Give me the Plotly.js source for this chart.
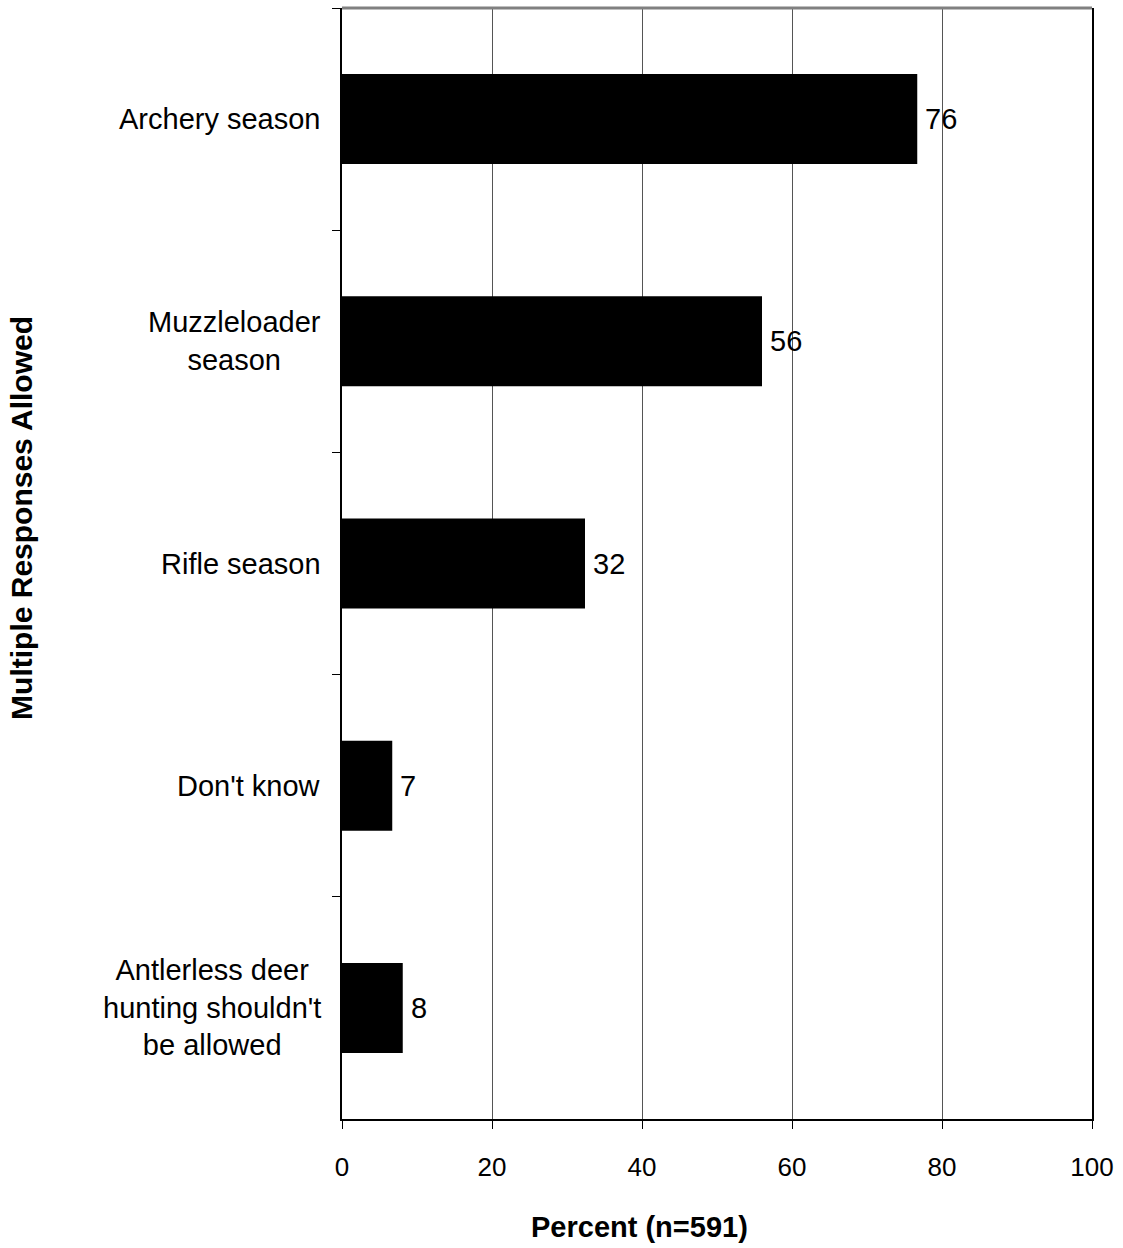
<!DOCTYPE html>
<html>
<head>
<meta charset="utf-8">
<script src="https://cdn.plot.ly/plotly-3.0.1.min.js"></script>
<style>html,body{margin:0;padding:0;background:#fff;}#chart{width:1123px;height:1248px;}</style>
</head>
<body>
<div id="chart"></div>
<script>
var categories = ["Archery season", "Muzzleloader<br>season", "Rifle season", "Don't know", "Antlerless deer<br>hunting shouldn't<br>be allowed"];
var percentValues = [76.7, 56, 32.4, 6.7, 8.1];
var valueLabels = ["76", "56", "32", "7", "8"];
var xTickValues = [0, 20, 40, 60, 80, 100];
var xAxisTitle = "Percent (n=591)";
var yAxisTitle = "Multiple Responses Allowed";

var FONT = "Liberation Sans, Arial, Helvetica, sans-serif";

var trace = {
  type: "bar",
  orientation: "h",
  x: percentValues,
  y: categories,
  marker: {color: "#000", line: {width: 0}},
  hoverinfo: "none"
};

var annotations = [];
// category labels (centered multi-line, right edge near axis)
categories.forEach(function (c) {
  annotations.push({
    text: c, xref: "paper", yref: "y", x: 0, y: c,
    xanchor: "right", yanchor: "middle", align: "center",
    xshift: -19, showarrow: false,
    font: {family: FONT, size: 29, color: "#000"}
  });
});
// value labels
percentValues.forEach(function (v, i) {
  annotations.push({
    text: valueLabels[i], xref: "x", yref: "y", x: v, y: categories[i],
    xanchor: "left", yanchor: "middle",
    xshift: 6, showarrow: false,
    font: {family: FONT, size: 29, color: "#000"}
  });
});
annotations.push({
  text: "<b>" + xAxisTitle + "</b>",
  xref: "paper", yref: "paper",
  x: 0.397, y: -0.0972,
  xanchor: "center", yanchor: "middle",
  showarrow: false,
  font: {family: FONT, size: 29, color: "#000"}
});
annotations.push({
  text: "<b>" + yAxisTitle + "</b>",
  xref: "paper", yref: "paper",
  x: -0.4267, y: 0.541,
  xanchor: "center", yanchor: "middle",
  textangle: -90,
  showarrow: false,
  font: {family: FONT, size: 30, color: "#000"}
});

var layout = {
  width: 1123,
  height: 1248,
  margin: {l: 342, r: 31, t: 8, b: 129, pad: 0},
  paper_bgcolor: "#fff",
  plot_bgcolor: "#fff",
  showlegend: false,
  bargap: 0.595,
  font: {family: FONT, size: 27, color: "#000"},
  xaxis: {
    range: [0, 100],
    tickvals: xTickValues,
    ticks: "outside",
    ticklen: 8,
    tickcolor: "#000",
    tickwidth: 1,
    ticklabelstandoff: 16,
    showline: true,
    linecolor: "#000",
    linewidth: 2,
    showgrid: true,
    gridcolor: "#555",
    gridwidth: 1,
    zeroline: false,
    tickfont: {family: FONT, size: 26, color: "#000"},
    fixedrange: true
  },
  yaxis: {
    type: "category",
    categoryorder: "array",
    categoryarray: categories,
    autorange: "reversed",
    tickson: "boundaries",
    ticks: "outside",
    ticklen: 8,
    tickcolor: "#000",
    tickwidth: 1,
    showticklabels: false,
    showline: true,
    mirror: true,
    linecolor: "#000",
    linewidth: 2,
    showgrid: false,
    zeroline: false,
    fixedrange: true
  },
  shapes: [{
    type: "line", xref: "paper", yref: "paper",
    x0: 0, x1: 1, y0: 1, y1: 1,
    line: {color: "#808080", width: 3}
  }],
  annotations: annotations
};

Plotly.newPlot("chart", [trace], layout, {staticPlot: true, displayModeBar: false});
</script>
</body>
</html>
